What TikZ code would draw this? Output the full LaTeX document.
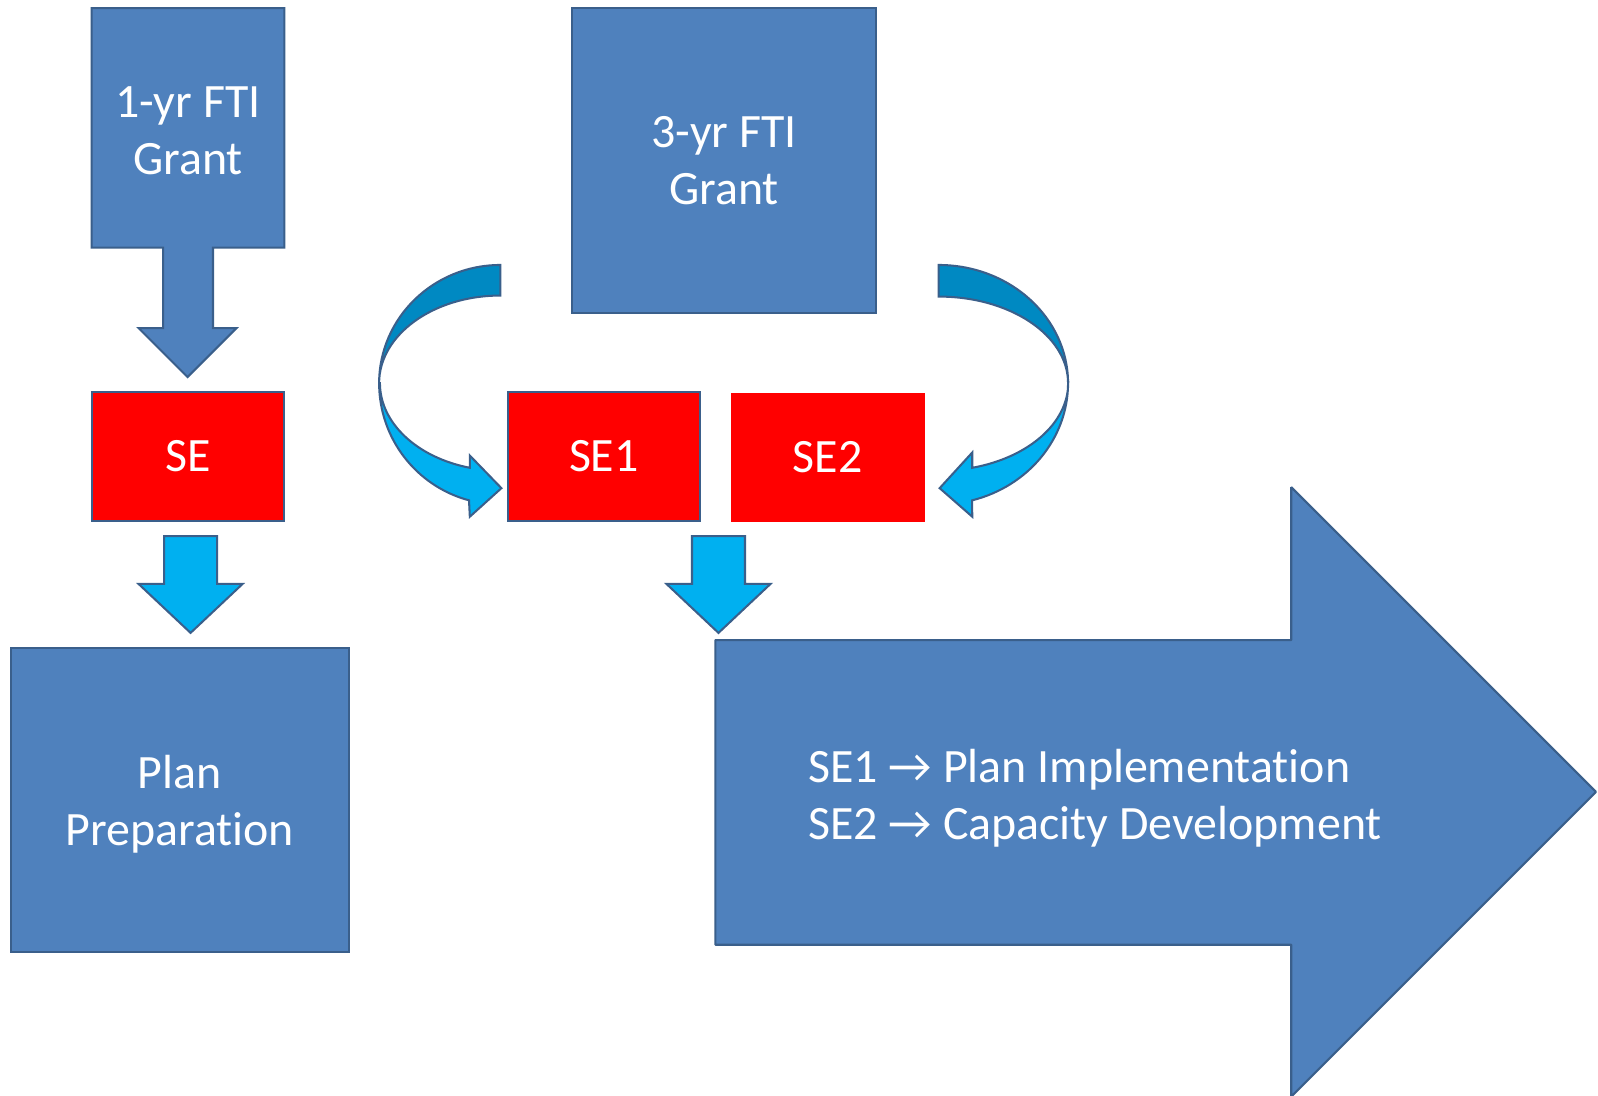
\documentclass[tikz,border=0pt]{standalone}
\usepackage{fontspec}
\setmainfont{Carlito}[Ligatures=NoCommon]
\usepackage{tikz}
\usetikzlibrary{positioning}
\definecolor{fblue}{HTML}{4F81BD}
\definecolor{fborder}{HTML}{3A5F8B}
\definecolor{fcyan}{HTML}{00B0F0}
\definecolor{fdcyan}{HTML}{0089C2}
\definecolor{fred}{HTML}{FF0000}
\tikzstyle{bluebox} = [fill=fblue, draw=fborder, line width=2pt]
\tikzstyle{cyanarrow} = [fill=fcyan, draw=fborder, line width=2pt]
\tikzstyle{backarrow} = [fill=fdcyan, draw=fborder, line width=2pt]
\tikzstyle{lbl} = [text=white, align=center, font=\fontsize{47}{56}\selectfont, inner sep=0pt]
\tikzstyle{sebox} = [lbl, fill=fred, draw=fborder, line width=2pt, minimum width=189pt, minimum height=126pt]

\begin{document}
\begin{tikzpicture}[x=1pt, y=-1pt]
			\useasboundingbox (0,0) rectangle (1568,1075);

			\path [bluebox] (90,8) -- (279,8) -- (279,243) -- (209,243) -- (209,322) -- (232,322) -- (184,370) -- (136,322) -- (160,322) -- (160,243) -- (90,243) -- cycle;
			\node [lbl] (grant1) at (184.5,128) {1-yr FTI\\Grant};
			\node [lbl, bluebox, minimum width=299pt, minimum height=299pt] (grant3) at (710.5,157.5) {3-yr FTI\\Grant};

			\node [sebox] (se) at (184.5,448) {SE};
			\node [sebox] (se1) at (592.5,448) {SE1};
			\node [sebox, draw=fred, line width=0.5pt] (se2) at (812,448.5) {SE2};

			\path [cyanarrow] (161,526) -- (213,526) -- (213,573) -- (238,573) -- (187,621) -- (136,573) -- (161,573) -- cycle;
			\path [cyanarrow] (679,526) -- (731,526) -- (731,573) -- (756,573) -- (705,621) -- (654,573) -- (679,573) -- cycle;

			\node [lbl, bluebox, minimum width=331pt, minimum height=298pt, text depth=0pt] (prep) at (176.5,785) {Plan\\Preparation};

			\path [backarrow] (491,260) arc [start angle=-90, end angle=-180, x radius=119, y radius=116] arc [start angle=180, end angle=270, x radius=119, y radius=86] -- cycle;
			\path [cyanarrow] (372,376) arc [start angle=180, end angle=105, x radius=119, y radius=119] -- (461,507) -- (492,479) -- (461,447) -- (461,459) arc [start angle=105, end angle=180, x radius=119, y radius=86] -- cycle;

			\path [backarrow] (921,260) arc [start angle=-90, end angle=0, x radius=127, y radius=116] arc [start angle=0, end angle=-90, x radius=127, y radius=85] -- cycle;
			\path [cyanarrow] (1048,376) arc [start angle=0, end angle=75, x radius=127, y radius=119] -- (954,507) -- (922,479) -- (954,444) -- (954,459) arc [start angle=75, end angle=0, x radius=127, y radius=86] -- cycle;

			\path [bluebox, line join=bevel] (702,628) -- (1267,628) -- (1267,478) -- (1566,777) -- (1267,1076) -- (1267,927) -- (702,927) -- cycle;
			\node [lbl, align=left, anchor=west] (plans) at (793,783) {SE1 → Plan Implementation\\SE2 → Capacity Development};
		\end{tikzpicture}
\end{document}
